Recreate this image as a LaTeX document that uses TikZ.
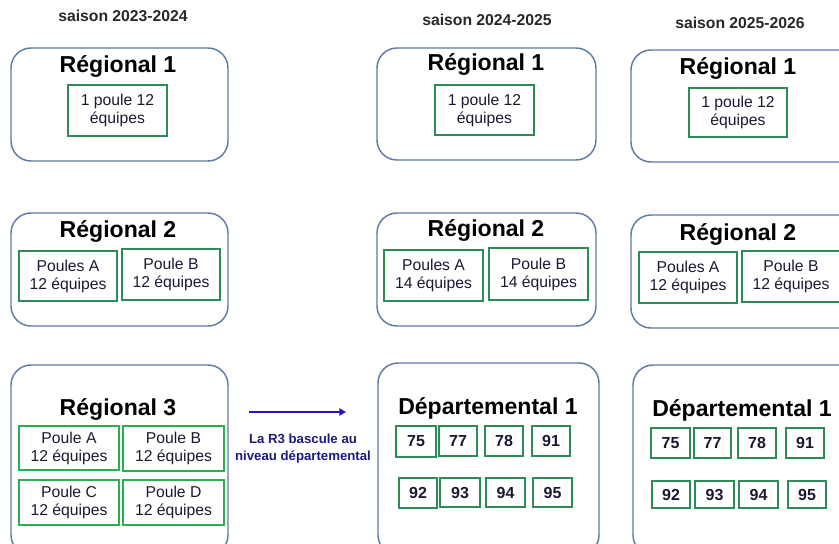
\documentclass[tikz,border=0pt]{standalone}
\usepackage{fontspec}
\setmainfont{Liberation Sans}
\usetikzlibrary{fit,arrows.meta}
\definecolor{outerblue}{RGB}{96,122,166}
\definecolor{boxgreen}{RGB}{46,139,87}
\definecolor{brightgreen}{RGB}{40,175,80}
\definecolor{navy}{RGB}{30,25,130}
\definecolor{arrowblue}{RGB}{40,20,185}
\definecolor{inktext}{RGB}{25,25,50}
\definecolor{seasongray}{RGB}{40,40,40}
\tikzset{
  outerbox/.style={draw=outerblue, line width=1.1pt, rounded corners=15pt, inner sep=0pt},
  sz/.style 2 args={minimum width=#1*0.75pt, minimum height=#2*0.75pt},
  ibox/.style={draw=boxgreen, line width=0.9pt, inner sep=0pt, align=center, text=inktext,
    font=\fontsize{11.8}{13.5}\selectfont},
  ibox3/.style={ibox, draw=brightgreen},
  numbox/.style={draw=boxgreen, line width=0.9pt, inner sep=0pt, text=inktext,
    font=\fontsize{12}{13}\selectfont\bfseries},
  ttl/.style={font=\fontsize{17.3}{19}\selectfont\bfseries, inner sep=0pt},
  season/.style={font=\fontsize{11.8}{13}\selectfont\bfseries, text=seasongray, inner sep=0pt},
  lbl/.style={font=\fontsize{9.9}{12.8}\selectfont\bfseries, text=navy, align=center, inner sep=0pt},
}
\begin{document}
\begin{tikzpicture}[x=0.75pt,y=-0.75pt]
\useasboundingbox (0,0) rectangle (839,543);
\clip (0,0) rectangle (839,543);
% season headers
\node[season] (s1) at (123,16) {saison 2023-2024};
\node[season] (s2) at (487,20) {saison 2024-2025};
\node[season] (s3) at (740,23) {saison 2025-2026};

% ---------- column 1 ----------
\node[outerbox, fit={(11,48) (228,161)}] (c1r1) {};
\node[ttl] (c1r1t) at (118,66) {Régional 1};
\node[ibox, sz={99}{51}] (c1r1p) at (117.5,110.5) {1 poule 12\\équipes};

\node[outerbox, fit={(11,213) (228,326)}] (c1r2) {};
\node[ttl] (c1r2t) at (118,231) {Régional 2};
\node[ibox, sz={98}{50}] (c1r2a) at (68,276) {Poules A\\12 équipes};
\node[ibox, sz={98}{51}] (c1r2b) at (171,274.5) {Poule B\\12 équipes};

\node[outerbox, fit={(11,365) (228,555)}] (c1r3) {};
\node[ttl] (c1r3t) at (118,409) {Régional 3};
\node[ibox3, sz={100}{44}] (c1r3a) at (69,448) {Poule A\\12 équipes};
\node[ibox3, sz={101}{45}] (c1r3b) at (173.5,448.5) {Poule B\\12 équipes};
\node[ibox3, sz={100}{45}] (c1r3c) at (69,502.5) {Poule C\\12 équipes};
\node[ibox3, sz={101}{45}] (c1r3d) at (173.5,502.5) {Poule D\\12 équipes};

% arrow
\coordinate (ar1) at (249,412);
\coordinate (ar2) at (346,412);
\draw[arrowblue, line width=1.7pt, -{Triangle[length=5pt,width=5.5pt]}] (ar1) -- (ar2);
\node[lbl] (arl) at (303,449) {La R3 bascule au\\niveau départemental};

% ---------- column 2 ----------
\node[outerbox, fit={(377,48) (596,160)}] (c2r1) {};
\node[ttl] (c2r1t) at (486,64) {Régional 1};
\node[ibox, sz={99}{50}] (c2r1p) at (484.5,110) {1 poule 12\\équipes};

\node[outerbox, fit={(377,213) (596,326)}] (c2r2) {};
\node[ttl] (c2r2t) at (486,230) {Régional 2};
\node[ibox, sz={99}{51}] (c2r2a) at (433.5,275.5) {Poules A\\14 équipes};
\node[ibox, sz={99}{52}] (c2r2b) at (538.5,274) {Poule B\\14 équipes};

\node[outerbox, fit={(378,363) (599,555)}] (c2d) {};
\node[ttl] (c2dt) at (488,408) {Départemental 1};
\node[numbox, sz={40}{31}] (c2n75) at (416,441.5) {75};
\node[numbox, sz={38}{30}] (c2n77) at (458,441) {77};
\node[numbox, sz={38}{30}] (c2n78) at (504,441) {78};
\node[numbox, sz={38}{30}] (c2n91) at (551,441) {91};
\node[numbox, sz={38}{30}] (c2n92) at (418,493) {92};
\node[numbox, sz={40}{29}] (c2n93) at (460,492.5) {93};
\node[numbox, sz={39}{29}] (c2n94) at (505.5,492.5) {94};
\node[numbox, sz={39}{29}] (c2n95) at (552.5,492.5) {95};

% ---------- column 3 ----------
\node[outerbox, fit={(631,50) (880,162)}] (c3r1) {};
\node[ttl] (c3r1t) at (738,68) {Régional 1};
\node[ibox, sz={98}{49}] (c3r1p) at (738,112.5) {1 poule 12\\équipes};

\node[outerbox, fit={(631,215) (880,328)}] (c3r2) {};
\node[ttl] (c3r2t) at (738,234) {Régional 2};
\node[ibox, sz={98}{51}] (c3r2a) at (688,277.5) {Poules A\\12 équipes};
\node[ibox, sz={98}{51}] (c3r2b) at (791,276.5) {Poule B\\12 équipes};

\node[outerbox, fit={(633,365) (880,555)}] (c3d) {};
\node[ttl] (c3dt) at (742,410) {Départemental 1};
\node[numbox, sz={39}{30}] (c3n75) at (670.5,443) {75};
\node[numbox, sz={37}{30}] (c3n77) at (712.5,443) {77};
\node[numbox, sz={38}{30}] (c3n78) at (757,443) {78};
\node[numbox, sz={38}{30}] (c3n91) at (805,443) {91};
\node[numbox, sz={38}{27}] (c3n92) at (671,494.5) {92};
\node[numbox, sz={39}{27}] (c3n93) at (714.5,494.5) {93};
\node[numbox, sz={39}{27}] (c3n94) at (758.5,494.5) {94};
\node[numbox, sz={38}{27}] (c3n95) at (807,494.5) {95};
\end{tikzpicture}
\end{document}
